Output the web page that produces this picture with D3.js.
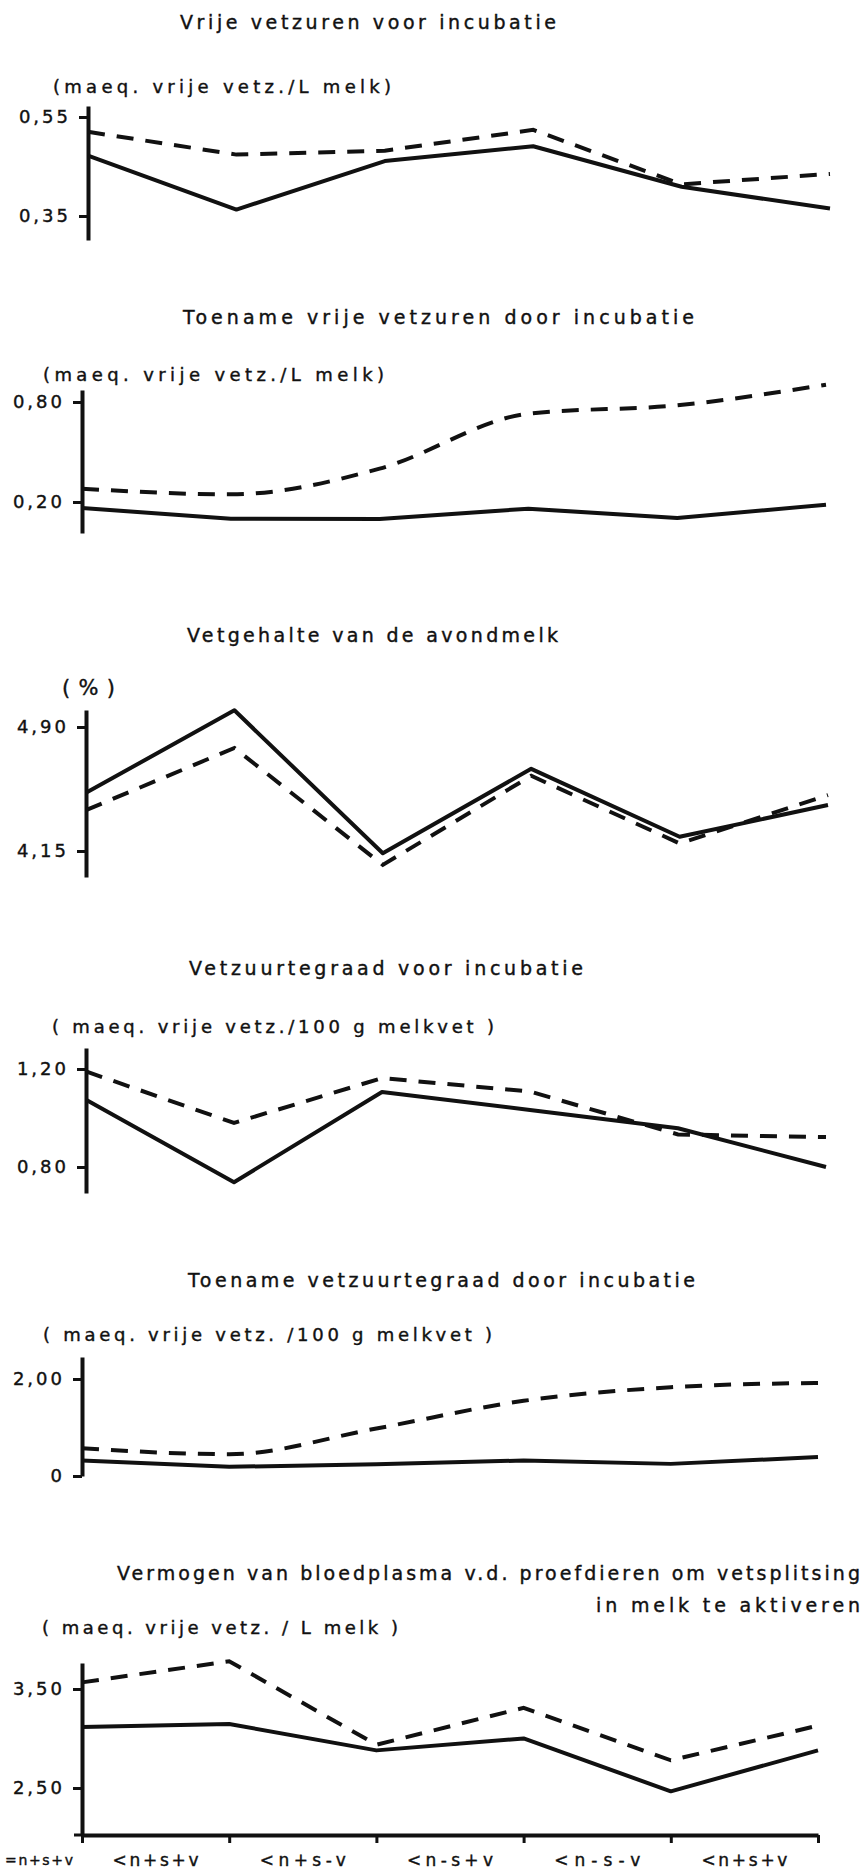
<!DOCTYPE html>
<html lang="nl">
<head>
<meta charset="UTF-8">
<title>Vetsplitsing</title>
<script src="https://d3js.org/d3.v7.min.js"></script>
<style>
  body { margin: 0; background: #fff; }
  text { font-family: "DejaVu Sans", sans-serif; fill: #111; stroke: #111; stroke-width: 0.4px; }
  .domain { stroke: #111; stroke-width: 4px; }
  .tick line { stroke: #111; stroke-width: 3px; }
  .tick text { font-size: 18px; letter-spacing: 3px; }
</style>
</head>
<body>
<script>
// categories (x axis of the bottom panel)
const categories = ["=n+s+v", "<n+s+v", "<n+s-v", "<n-s+v", "<n-s-v", "<n+s+v"];

const titles = [
  ["Vrije vetzuren voor incubatie"],
  ["Toename vrije vetzuren door incubatie"],
  ["Vetgehalte van de avondmelk"],
  ["Vetzuurtegraad voor incubatie"],
  ["Toename vetzuurtegraad door incubatie"],
  ["Vermogen van bloedplasma v.d. proefdieren om vetsplitsing", "in melk te aktiveren"]
];
const units = [
  "(maeq. vrije vetz./L melk)",
  "(maeq. vrije vetz./L melk)",
  "(%)",
  "( maeq. vrije vetz./100 g melkvet )",
  "( maeq. vrije vetz. /100 g melkvet )",
  "( maeq. vrije vetz. / L melk )"
];

// tick values + labels per panel
const ticks1 = [0.35, 0.55], tickLabels1 = ["0,35", "0,55"];
const ticks2 = [0.20, 0.80], tickLabels2 = ["0,20", "0,80"];
const ticks3 = [4.15, 4.90], tickLabels3 = ["4,15", "4,90"];
const ticks4 = [0.80, 1.20], tickLabels4 = ["0,80", "1,20"];
const ticks5 = [0, 2.00],    tickLabels5 = ["0", "2,00"];
const ticks6 = [2.50, 3.50], tickLabels6 = ["2,50", "3,50"];

// series (solid / dashed)
const solid1  = [0.472, 0.363, 0.461, 0.491, 0.409, 0.365];
const dashed1 = [0.520, 0.474, 0.482, 0.524, 0.414, 0.435];
const solid2  = [0.164, 0.100, 0.098, 0.160, 0.104, 0.184];
const dashed2 = [0.280, 0.246, 0.400, 0.730, 0.780, 0.904];
const solid3  = [4.502, 5.001, 4.136, 4.647, 4.236, 4.428];
const dashed3 = [4.397, 4.773, 4.066, 4.605, 4.196, 4.488];
const solid4  = [1.074, 0.738, 1.106, 1.033, 0.958, 0.800];
const dashed4 = [1.190, 0.980, 1.163, 1.108, 0.933, 0.922];
const solid5  = [0.32, 0.19, 0.24, 0.32, 0.25, 0.39];
const dashed5 = [0.57, 0.45, 0.98, 1.55, 1.83, 1.92];
const solid6  = [3.116, 3.146, 2.880, 3.001, 2.466, 2.880];
const dashed6 = [3.567, 3.780, 2.937, 3.310, 2.780, 3.130];

// layout (pixels)
const panels = [
  { ticks: ticks1, labels: tickLabels1, solid: solid1, dashed: dashed1, dashCurve: d3.curveLinear,
    xr: [88, 830], tickY: [216, 117], axisY: [240, 106],
    title: [[180, 556, 22]], unit: [53, 391, 87, 18] },
  { ticks: ticks2, labels: tickLabels2, solid: solid2, dashed: dashed2, dashCurve: d3.curveMonotoneX,
    xr: [82, 826], tickY: [502, 402], axisY: [533, 390],
    title: [[183, 694, 317]], unit: [43, 384, 375, 18] },
  { ticks: ticks3, labels: tickLabels3, solid: solid3, dashed: dashed3, dashCurve: d3.curveLinear,
    xr: [86, 828], tickY: [851, 727], axisY: [877, 710],
    title: [[187, 558, 635]], unit: [62, 115, 687, 21] },
  { ticks: ticks4, labels: tickLabels4, solid: solid4, dashed: dashed4, dashCurve: d3.curveLinear,
    xr: [86, 826], tickY: [1167, 1069], axisY: [1193, 1048],
    title: [[189, 583, 968]], unit: [52, 494, 1027, 18] },
  { ticks: ticks5, labels: tickLabels5, solid: solid5, dashed: dashed5, dashCurve: d3.curveMonotoneX,
    xr: [82, 818], tickY: [1476, 1379], axisY: [1476, 1357],
    title: [[188, 695, 1280]], unit: [43, 492, 1335, 18] },
  { ticks: ticks6, labels: tickLabels6, solid: solid6, dashed: dashed6, dashCurve: d3.curveLinear,
    xr: [82, 818], tickY: [1788, 1689], axisY: [1835, 1663],
    title: [[117, 860, 1573], [596, 860, 1605]], unit: [42, 398, 1628, 18], xAxis: 1835 }
];

const svg = d3.select("body").append("svg")
  .attr("width", 866)
  .attr("height", 1871);

panels.forEach((p, k) => {
  const g = svg.append("g");
  const x = d3.scalePoint().domain(d3.range(categories.length)).range(p.xr);
  const y = d3.scaleLinear().domain(p.ticks).range(p.tickY);
  // same mapping, but domain stretched to the full drawn axis
  const yAx = y.copy().domain(p.axisY.map(v => y.invert(v))).range(p.axisY);

  // titles
  titles[k].forEach((t, j) => {
    const [x0, x1, cy] = p.title[j];
    g.append("text")
      .attr("x", x0).attr("y", cy).attr("dy", "0.36em")
      .attr("textLength", x1 - x0).attr("lengthAdjust", "spacing")
      .style("font-size", "19px")
      .text(t);
  });

  g.append("text")
    .attr("x", p.unit[0]).attr("y", p.unit[2]).attr("dy", "0.36em")
    .attr("textLength", p.unit[1] - p.unit[0]).attr("lengthAdjust", "spacing")
    .style("font-size", p.unit[3] + "px")
    .text(units[k]);

  // y axis
  g.append("g")
    .attr("transform", `translate(${p.xr[0]},0)`)
    .call(d3.axisLeft(yAx)
      .tickValues(p.ticks)
      .tickFormat((d, i) => p.labels[i])
      .tickSizeInner(9).tickSizeOuter(0).tickPadding(8));

  // lines
  const line = d3.line()
    .x((d, i) => x(i))
    .y(d => y(d));

  g.append("path")
    .datum(p.solid)
    .attr("d", line)
    .attr("fill", "none")
    .attr("stroke", "#111")
    .attr("stroke-width", 4)
    .attr("stroke-linejoin", "round");

  g.append("path")
    .datum(p.dashed)
    .attr("d", line.curve(p.dashCurve))
    .attr("fill", "none")
    .attr("stroke", "#111")
    .attr("stroke-width", 4)
    .attr("stroke-dasharray", "17,12");

  // x axis with category labels (bottom panel only)
  if (p.xAxis) {
    g.append("g")
      .attr("transform", `translate(0,${p.xAxis})`)
      .call(d3.axisBottom(x).tickFormat("").tickSizeInner(8).tickSizeOuter(0));
    g.append("line")
      .attr("x1", p.xr[0] - 8).attr("x2", p.xr[0])
      .attr("y1", p.xAxis).attr("y2", p.xAxis)
      .attr("stroke", "#111").attr("stroke-width", 3);

    g.selectAll(".cat")
      .data(categories)
      .join("text")
      .attr("class", "cat")
      .attr("x", (d, i) => i === 0 ? 5 : (x(i - 1) + x(i)) / 2 - 43)
      .attr("y", p.xAxis + 25)
      .attr("dy", "0.36em")
      .attr("textLength", (d, i) => i === 0 ? 68 : 86)
      .attr("lengthAdjust", "spacing")
      .style("font-size", (d, i) => i === 0 ? "14px" : "17px")
      .text(d => d);
  }
});
</script>
</body>
</html>
